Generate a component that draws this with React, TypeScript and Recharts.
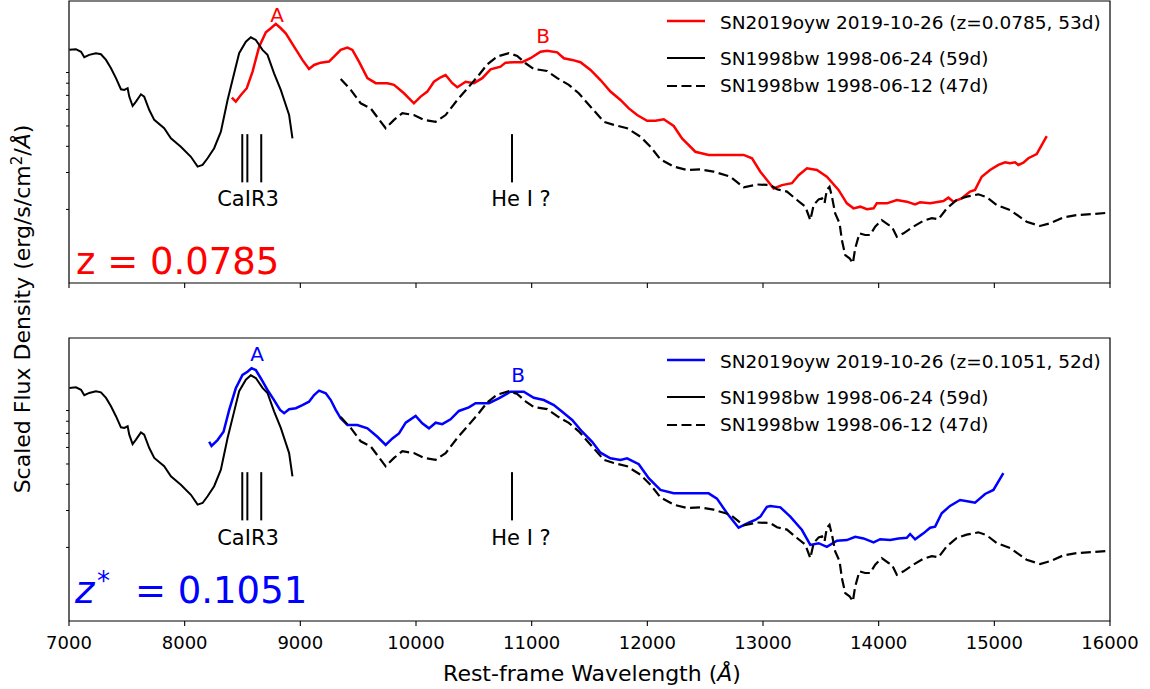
import { LineChart, Line, XAxis, YAxis, ReferenceLine, ReferenceArea } from "recharts";

// wavelengths in Angstrom, flux as log10 of the scaled flux
const waveLate98 = [7003, 7060, 7104, 7132, 7175, 7233, 7276, 7320, 7363, 7406, 7449, 7478, 7507, 7521, 7550, 7579, 7622, 7650, 7694, 7737, 7823, 7881, 7967, 8054, 8112, 8155, 8198, 8255, 8313, 8371, 8428, 8471, 8529, 8572, 8615, 8673, 8716, 8773, 8831, 8903, 8932];
const fluxLate98 = [1.062, 1.065, 1.053, 1.027, 1.038, 1.046, 1.041, 1.014, 0.974, 0.927, 0.874, 0.871, 0.879, 0.839, 0.794, 0.815, 0.85, 0.839, 0.775, 0.728, 0.688, 0.64, 0.6, 0.552, 0.505, 0.513, 0.545, 0.593, 0.672, 0.823, 0.95, 1.046, 1.101, 1.122, 1.109, 1.062, 1.038, 0.95, 0.871, 0.751, 0.64];

const waveEarly98 = [9349, 9436, 9522, 9608, 9738, 9810, 9882, 9982, 10069, 10170, 10256, 10357, 10457, 10544, 10616, 10702, 10803, 10875, 10947, 11018, 11134, 11221, 11321, 11407, 11509, 11624, 11710, 11825, 11940, 12027, 12113, 12228, 12343, 12458, 12573, 12718, 12833, 12948, 13063, 13121, 13207, 13294, 13366, 13409, 13438, 13481, 13510, 13532, 13552, 13575, 13596, 13624, 13662, 13682, 13711, 13748, 13777, 13797, 13834, 13883, 13926, 13970, 14027, 14085, 14114, 14157, 14215, 14301, 14387, 14459, 14517, 14589, 14675, 14761, 14862, 14934, 15020, 15136, 15280, 15395, 15481, 15596, 15712, 15856, 15986];
const fluxEarly98 = [0.923, 0.871, 0.807, 0.783, 0.688, 0.728, 0.76, 0.751, 0.728, 0.719, 0.751, 0.823, 0.886, 0.942, 0.993, 1.03, 1.046, 1.033, 0.998, 0.971, 0.961, 0.927, 0.895, 0.855, 0.791, 0.719, 0.704, 0.688, 0.648, 0.6, 0.54, 0.505, 0.489, 0.492, 0.481, 0.457, 0.406, 0.42, 0.417, 0.397, 0.386, 0.346, 0.314, 0.25, 0.322, 0.349, 0.354, 0.33, 0.394, 0.409, 0.362, 0.282, 0.235, 0.155, 0.083, 0.068, 0.044, 0.115, 0.187, 0.179, 0.179, 0.219, 0.25, 0.227, 0.219, 0.171, 0.187, 0.219, 0.247, 0.259, 0.254, 0.306, 0.346, 0.362, 0.373, 0.359, 0.322, 0.298, 0.242, 0.222, 0.235, 0.263, 0.274, 0.279, 0.285];

const waveOywZ1 = [8408, 8442, 8486, 8537, 8587, 8644, 8702, 8745, 8788, 8831, 8874, 8946, 9018, 9075, 9119, 9176, 9248, 9291, 9349, 9407, 9450, 9507, 9580, 9652, 9753, 9810, 9896, 9982, 10040, 10098, 10155, 10213, 10256, 10314, 10357, 10429, 10501, 10573, 10645, 10731, 10774, 10846, 10918, 10990, 11077, 11134, 11221, 11278, 11350, 11422, 11509, 11595, 11681, 11768, 11840, 11912, 11998, 12070, 12142, 12228, 12300, 12415, 12530, 12689, 12833, 12905, 12977, 13034, 13092, 13164, 13250, 13308, 13380, 13466, 13552, 13653, 13725, 13783, 13841, 13898, 13956, 13984, 14071, 14157, 14243, 14315, 14358, 14445, 14560, 14603, 14646, 14718, 14790, 14833, 14891, 14963, 15035, 15093, 15136, 15179, 15208, 15251, 15294, 15366, 15453];
const fluxOywZ1 = [0.834, 0.815, 0.847, 0.879, 0.958, 1.077, 1.146, 1.165, 1.186, 1.165, 1.141, 1.077, 1.014, 0.971, 0.99, 1.001, 1.006, 1.03, 1.062, 1.073, 1.062, 1.006, 0.927, 0.903, 0.903, 0.895, 0.855, 0.807, 0.839, 0.863, 0.91, 0.931, 0.942, 0.903, 0.884, 0.91, 0.903, 0.927, 0.969, 0.982, 1.001, 1.003, 1.003, 1.022, 1.053, 1.058, 1.05, 1.022, 1.014, 1.003, 0.966, 0.918, 0.863, 0.823, 0.783, 0.751, 0.724, 0.724, 0.731, 0.699, 0.64, 0.576, 0.561, 0.561, 0.561, 0.545, 0.481, 0.441, 0.401, 0.417, 0.426, 0.464, 0.497, 0.489, 0.457, 0.394, 0.33, 0.306, 0.314, 0.302, 0.306, 0.33, 0.33, 0.346, 0.338, 0.325, 0.335, 0.33, 0.341, 0.357, 0.338, 0.354, 0.386, 0.394, 0.457, 0.489, 0.513, 0.526, 0.521, 0.526, 0.513, 0.524, 0.545, 0.565, 0.651];

const waveOywZ2 = [8212, 8232, 8284, 8336, 8385, 8442, 8500, 8543, 8578, 8615, 8658, 8716, 8773, 8825, 8860, 8903, 8961, 9018, 9075, 9119, 9162, 9220, 9263, 9306, 9349, 9407, 9493, 9580, 9666, 9738, 9796, 9853, 9911, 9997, 10054, 10112, 10170, 10227, 10299, 10371, 10457, 10515, 10630, 10716, 10817, 10932, 11018, 11105, 11192, 11264, 11350, 11437, 11523, 11595, 11681, 11768, 11825, 11926, 12012, 12113, 12228, 12372, 12530, 12602, 12689, 12789, 12876, 12933, 12977, 13034, 13063, 13150, 13236, 13337, 13409, 13481, 13552, 13639, 13725, 13797, 13869, 13956, 14013, 14100, 14171, 14243, 14272, 14315, 14387, 14445, 14488, 14545, 14617, 14704, 14790, 14833, 14920, 14992, 15078];
const fluxOywZ2 = [0.805, 0.785, 0.813, 0.853, 0.957, 1.06, 1.124, 1.139, 1.156, 1.147, 1.108, 1.052, 1.004, 0.957, 0.941, 0.96, 0.965, 0.98, 0.996, 1.028, 1.049, 1.036, 1.004, 0.957, 0.917, 0.885, 0.885, 0.869, 0.829, 0.79, 0.821, 0.845, 0.896, 0.928, 0.893, 0.869, 0.896, 0.889, 0.912, 0.952, 0.969, 0.989, 0.989, 1.012, 1.044, 1.044, 1.015, 1.004, 0.98, 0.948, 0.909, 0.853, 0.805, 0.753, 0.726, 0.718, 0.726, 0.698, 0.631, 0.575, 0.559, 0.559, 0.559, 0.534, 0.464, 0.395, 0.419, 0.432, 0.448, 0.495, 0.499, 0.492, 0.448, 0.384, 0.313, 0.321, 0.304, 0.333, 0.336, 0.352, 0.344, 0.325, 0.34, 0.336, 0.344, 0.347, 0.365, 0.34, 0.368, 0.395, 0.4, 0.464, 0.499, 0.527, 0.519, 0.514, 0.556, 0.575, 0.655];

const waveTicks = [7000, 8000, 9000, 10000, 11000, 12000, 13000, 14000, 15000, 16000];
// log10 of 2..9 (minor ticks of a log axis)
const minorTicks = [0.301, 0.477, 0.602, 0.699, 0.778, 0.845, 0.903, 0.954];
const caLines = [8498, 8542, 8662];
const heLine = 10830;
const markSpan = [0.43, 0.66];

const FONT = "'DejaVu Sans', sans-serif";
const DASH = "10 4.5";

const toPoints = (w: number[], f: number[]) => w.map((x, i) => ({ w: x, f: f[i] }));

const late98 = toPoints(waveLate98, fluxLate98);
const early98 = toPoints(waveEarly98, fluxEarly98);
const oywZ1 = toPoints(waveOywZ1, fluxOywZ1);
const oywZ2 = toPoints(waveOywZ2, fluxOywZ2);

const blank = () => "";

interface PanelProps {
  top: number;
  marginTop: number;
  height: number;
  axisHeight: number;
  yDomain: [number, number];
  main: { w: number; f: number }[];
  color: string;
  labels: boolean;
}

const Panel = ({ top, marginTop, height, axisHeight, yDomain, main, color, labels }: PanelProps) => (
  <div style={{ position: "absolute", left: 0, top }}>
    <LineChart width={1150} height={height} margin={{ top: marginTop, right: 40, bottom: 0, left: 68 }}>
      <XAxis
        type="number"
        dataKey="w"
        domain={[7000, 16000]}
        ticks={waveTicks}
        interval={0}
        height={axisHeight}
        axisLine={false}
        tickSize={5}
        tickLine={{ stroke: "#000", strokeWidth: 1.1 }}
        tickMargin={10}
        tick={{ fontSize: 18, fill: "#000", fontFamily: FONT }}
        tickFormatter={labels ? undefined : blank}
        allowDataOverflow
      />
      <YAxis
        type="number"
        domain={yDomain}
        ticks={minorTicks}
        interval={0}
        width={1}
        axisLine={false}
        tickSize={3}
        tickLine={{ stroke: "#000", strokeWidth: 1 }}
        tick={{ fontSize: 1 }}
        tickFormatter={blank}
        allowDataOverflow
      />
      <ReferenceArea
        x1={7000}
        x2={16000}
        y1={yDomain[0]}
        y2={yDomain[1]}
        fill="none"
        stroke="#000"
        strokeWidth={1.2}
        ifOverflow="visible"
      />
      {caLines.map((x) => (
        <ReferenceLine
          key={x}
          segment={[{ x, y: markSpan[0] }, { x, y: markSpan[1] }]}
          stroke="#000"
          strokeWidth={2}
        />
      ))}
      <ReferenceLine
        segment={[{ x: heLine, y: markSpan[0] }, { x: heLine, y: markSpan[1] }]}
        stroke="#000"
        strokeWidth={2}
      />
      <Line data={main} dataKey="f" type="linear" dot={false} stroke={color} strokeWidth={2.5} isAnimationActive={false} />
      <Line data={late98} dataKey="f" type="linear" dot={false} stroke="#000" strokeWidth={2} isAnimationActive={false} />
      <Line data={early98} dataKey="f" type="linear" dot={false} stroke="#000" strokeWidth={2.2} strokeDasharray={DASH} isAnimationActive={false} />
    </LineChart>
  </div>
);

const Legend = ({ y, color, label }: { y: number; color: string; label: string }) => (
  <g fontFamily={FONT} fontSize={18.5} fill="#000">
    <line x1={667} x2={705} y1={y} y2={y} stroke={color} strokeWidth={2.5} />
    <text x={720} y={y + 8}>{label}</text>
    <line x1={667} x2={705} y1={y + 37} y2={y + 37} stroke="#000" strokeWidth={2} />
    <text x={720} y={y + 43.5}>SN1998bw 1998-06-24 (59d)</text>
    <line x1={667} x2={705} y1={y + 65} y2={y + 65} stroke="#000" strokeWidth={2.2} strokeDasharray={DASH} />
    <text x={720} y={y + 70.5}>SN1998bw 1998-06-12 (47d)</text>
  </g>
);

const App = () => (
  <div style={{ position: "absolute", left: 0, top: 0, width: 1150, height: 689, background: "#fff" }}>
    <Panel top={0} marginTop={1} height={290} axisHeight={7} yDomain={[-0.05, 1.295]} main={oywZ1} color="#ff0000" labels={false} />
    <Panel top={330} marginTop={8} height={351} axisHeight={60} yDomain={[-0.05, 1.3]} main={oywZ2} color="#0000ff" labels />
    <svg
      width={1150}
      height={689}
      style={{ position: "absolute", left: 0, top: 0, pointerEvents: "none" }}
      fontFamily={FONT}
    >
      <Legend y={21} color="#ff0000" label="SN2019oyw 2019-10-26 (z=0.0785, 53d)" />
      <Legend y={360} color="#0000ff" label="SN2019oyw 2019-10-26 (z=0.1051, 52d)" />

      <text x={277} y={21.5} fontSize={20} fill="#ff0000" textAnchor="middle">A</text>
      <text x={543} y={43} fontSize={20} fill="#ff0000" textAnchor="middle">B</text>
      <text x={257} y={360.5} fontSize={20} fill="#0000ff" textAnchor="middle">A</text>
      <text x={518} y={381.5} fontSize={20} fill="#0000ff" textAnchor="middle">B</text>

      <text x={248} y={206} fontSize={21} textAnchor="middle">CaIR3</text>
      <text x={521} y={206} fontSize={21} textAnchor="middle">He I ?</text>
      <text x={248} y={545} fontSize={21} textAnchor="middle">CaIR3</text>
      <text x={521} y={545} fontSize={21} textAnchor="middle">He I ?</text>

      <text x={76} y={274} fontSize={37} fill="#ff0000">z = 0.0785</text>
      <text x={75} y={603} fontSize={37} fill="#0000ff" fontStyle="italic">z</text>
      <text x={97} y={590} fontSize={26} fill="#0000ff">*</text>
      <text x={135} y={603} fontSize={37} fill="#0000ff">= 0.1051</text>

      <text x={592} y={681} fontSize={22} textAnchor="middle">
        Rest-frame Wavelength (<tspan fontStyle="italic">Å</tspan>)
      </text>
      <text transform="translate(30,309) rotate(-90)" fontSize={22} textAnchor="middle">
        Scaled Flux Density (erg/s/cm<tspan dy={-8} fontSize={15}>2</tspan>
        <tspan dy={8}>/</tspan>
        <tspan fontStyle="italic">Å</tspan>)
      </text>
    </svg>
  </div>
);

export default App;
